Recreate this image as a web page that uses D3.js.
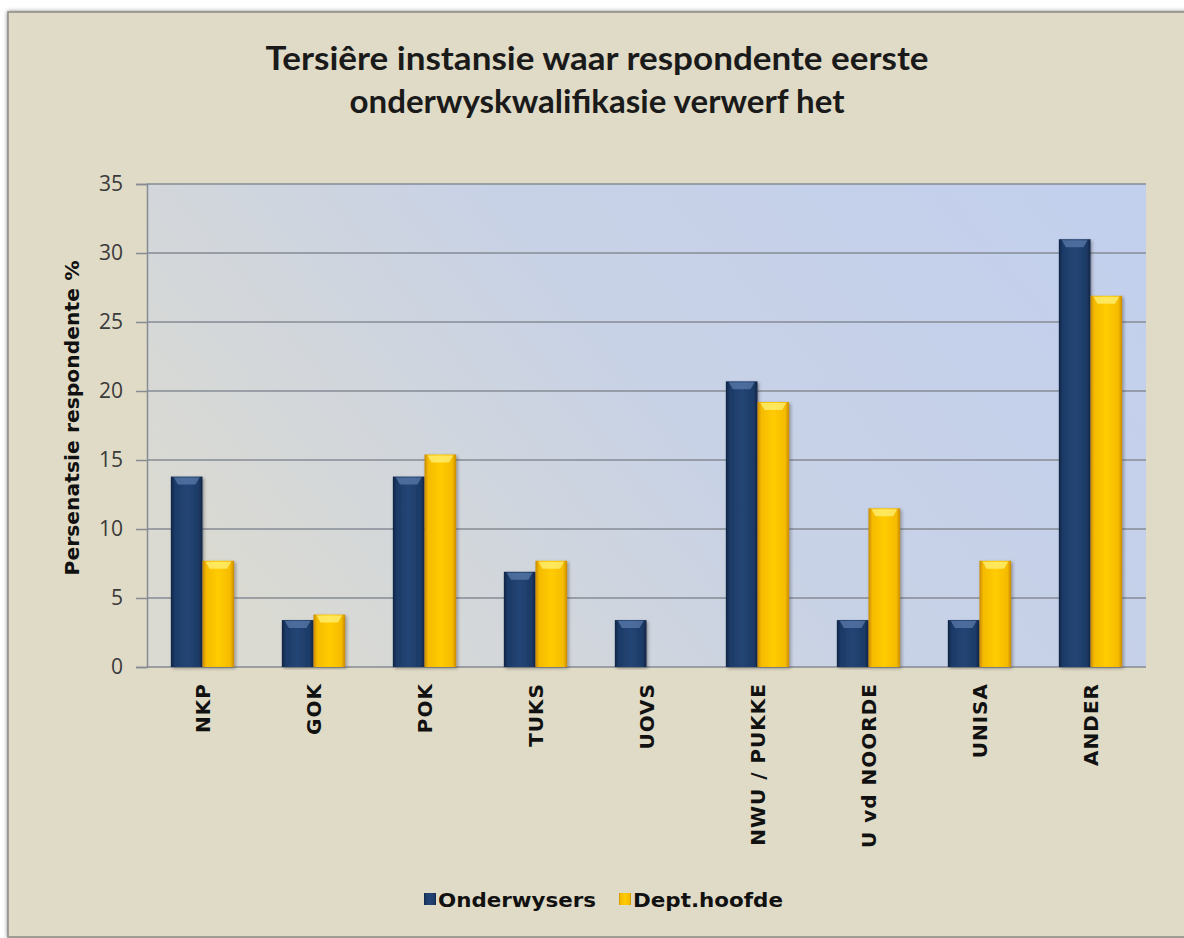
<!DOCTYPE html>
<html><head><meta charset="utf-8">
<script src="https://cdn.jsdelivr.net/npm/d3@7"></script>
<style>html,body{margin:0;padding:0;background:#fff;}svg{display:block;}</style>
</head><body>
<svg id="c" width="1184" height="938"></svg>
<script>
const categories = ["NKP","GOK","POK","TUKS","UOVS","NWU / PUKKE","U vd NOORDE","UNISA","ANDER"];
const onderwysers = [13.8,3.4,13.8,6.9,3.4,20.7,3.4,3.4,31.0];
const depthoofde = [7.7,3.8,15.4,7.7,0,19.2,11.5,7.7,26.9];
const seriesNames = ["Onderwysers","Dept.hoofde"];
const yTicks = [0,5,10,15,20,25,30,35];
const titleLines = ["Tersiêre instansie waar respondente eerste","onderwyskwalifikasie verwerf het"];
const yTitle = "Persenatsie respondente %";

const svg = d3.select("#c");
const defs = svg.append("defs");
const boldFont = "'DejaVu Sans',sans-serif";

// frame
const fs = defs.append("filter").attr("id","fsh").attr("x","-5%").attr("y","-5%").attr("width","110%").attr("height","110%");
fs.append("feDropShadow").attr("dx",0).attr("dy",0).attr("stdDeviation",2).attr("flood-color","#555").attr("flood-opacity",0.7);
svg.append("rect").attr("x",8).attr("y",12).attr("width",1190).attr("height",925)
  .attr("fill","#e0dbc6").attr("stroke","#8c8a82").attr("stroke-width",1.5).attr("filter","url(#fsh)");

const m = {l:147, r:1146, t:184, b:667};
const x0 = d3.scaleBand().domain(categories).range([m.l,m.r]).paddingInner(0.43).paddingOuter(0.215);
const x1 = d3.scaleBand().domain(seriesNames).range([0,x0.bandwidth()]);
const y = d3.scaleLinear().domain([0,35]).range([m.b,m.t]);

// plot bg gradient
const pg = defs.append("linearGradient").attr("id","pg").attr("x1","0").attr("y1","0.6").attr("x2","1").attr("y2","0.2");
pg.append("stop").attr("offset","0").attr("stop-color","#dadad3");
pg.append("stop").attr("offset","0.5").attr("stop-color","#c8d2e6");
pg.append("stop").attr("offset","1").attr("stop-color","#c3d0ed");
svg.append("rect").attr("x",m.l).attr("y",m.t).attr("width",m.r-m.l).attr("height",m.b-m.t).attr("fill","url(#pg)");

// grid
svg.append("g").selectAll("line").data(yTicks).join("line")
  .attr("x1",m.l).attr("x2",m.r).attr("y1",d=>y(d)).attr("y2",d=>y(d))
  .attr("stroke","#868b94").attr("stroke-width",1.5);

// y axis
const ya = svg.append("g").attr("transform",`translate(${m.l},0)`)
  .call(d3.axisLeft(y).tickValues(yTicks).tickSize(11).tickPadding(13));
ya.select(".domain").attr("stroke","#868b94").attr("stroke-width",1.5);
ya.selectAll(".tick line").attr("stroke","#868b94").attr("stroke-width",1.5);
ya.selectAll(".tick text").attr("font-family","'Open Sans',sans-serif").attr("font-size",21).attr("fill","#3a3a3a");

// bar gradients
function hgrad(id, stops){
  const g = defs.append("linearGradient").attr("id",id).attr("x1","0").attr("x2","1").attr("y1","0").attr("y2","0");
  stops.forEach(s=>g.append("stop").attr("offset",s[0]).attr("stop-color",s[1]));
}
hgrad("gb",[[0,"#0f2444"],[0.12,"#1d3a66"],[0.5,"#234575"],[0.88,"#1d3a66"],[1,"#0f2444"]]);
hgrad("gy",[[0,"#c98a00"],[0.12,"#f5bb00"],[0.5,"#ffcc00"],[0.88,"#f5bb00"],[1,"#c98a00"]]);
const bs = defs.append("filter").attr("id","bsh").attr("x","-20%").attr("y","-5%").attr("width","140%").attr("height","110%");
bs.append("feDropShadow").attr("dx",1.5).attr("dy",1.5).attr("stdDeviation",1.5).attr("flood-color","#333").attr("flood-opacity",0.45);

const fills = {"Onderwysers":"url(#gb)","Dept.hoofde":"url(#gy)"};
const tops = {"Onderwysers":"#5a7bab","Dept.hoofde":"#fff27a"};
const data = categories.map((c,i)=>({c, vals:[{s:seriesNames[0],v:onderwysers[i]},{s:seriesNames[1],v:depthoofde[i]}]}));
const gbars = svg.append("g").selectAll("g").data(data).join("g").attr("transform",d=>`translate(${x0(d.c)},0)`);
const bar = gbars.selectAll("g").data(d=>d.vals.filter(v=>v.v>0)).join("g");
bar.append("rect").attr("x",d=>x1(d.s)).attr("y",d=>y(d.v)).attr("width",x1.bandwidth()).attr("height",d=>y(0)-y(d.v))
  .attr("fill",d=>fills[d.s]).attr("filter","url(#bsh)");
bar.append("path").attr("d",d=>{
  const xl=x1(d.s), w=x1.bandwidth(), t=y(d.v);
  return `M${xl+3},${t+1} L${xl+w-3},${t+1} L${xl+w-7},${t+8} L${xl+7},${t+8} Z`;
}).attr("fill",d=>tops[d.s]).attr("opacity",0.75);

// x labels
svg.append("g").selectAll("text").data(categories).join("text")
  .attr("transform",d=>`translate(${x0(d)+x0.bandwidth()/2+7},683) rotate(-90)`)
  .attr("text-anchor","end").attr("font-family",boldFont).attr("font-weight","bold")
  .attr("font-size",20).attr("letter-spacing",1).attr("fill","#111").text(d=>d);

// titles
svg.append("g").selectAll("text").data(titleLines).join("text")
  .attr("x",597).attr("y",(d,i)=>70+i*43).attr("text-anchor","middle")
  .attr("font-family","Lato,sans-serif").attr("font-weight","bold").attr("font-size",33)
  .attr("fill","#1a1a1a")
  .attr("textLength",(d,i)=>i===0?663:495).attr("lengthAdjust","spacingAndGlyphs").text(d=>d);

svg.append("text").attr("transform","translate(79,418) rotate(-90)").attr("text-anchor","middle")
  .attr("font-family",boldFont).attr("font-weight","bold").attr("font-size",20).attr("fill","#111")
  .attr("textLength",315).attr("lengthAdjust","spacingAndGlyphs")
  .text(yTitle);

// legend
const lg = svg.append("g");
const legX = [424,619];
const legW = [158,150];
seriesNames.forEach((s,i)=>{
  lg.append("rect").attr("x",legX[i]).attr("y",893).attr("width",12).attr("height",12).attr("fill",fills[s]);
  lg.append("text").attr("x",legX[i]+14).attr("y",907).attr("font-family",boldFont).attr("font-weight","bold")
    .attr("font-size",20).attr("fill","#111").attr("textLength",legW[i]).attr("lengthAdjust","spacingAndGlyphs").text(s);
});
</script>
</body></html>
